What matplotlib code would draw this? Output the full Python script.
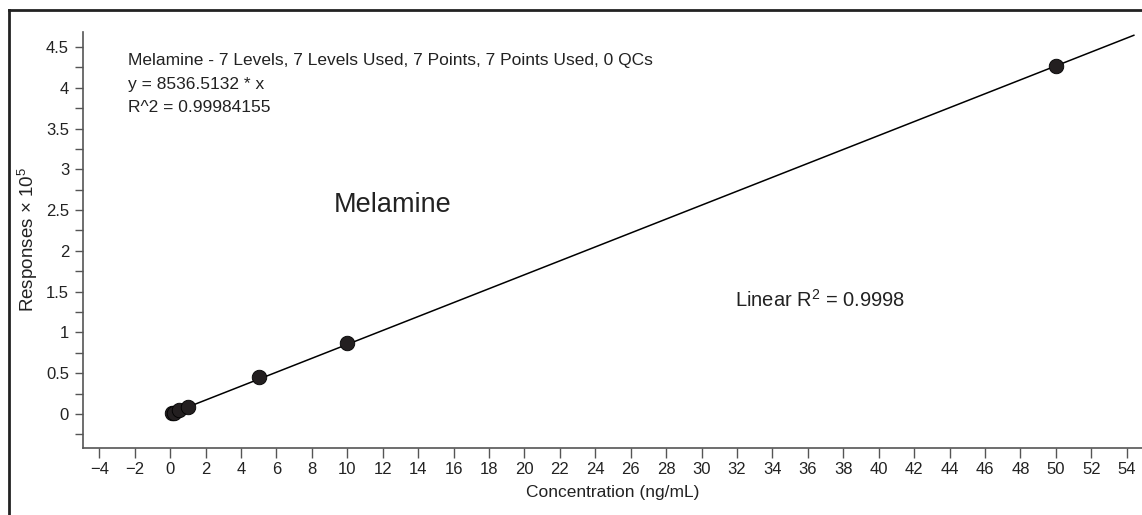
import matplotlib
matplotlib.use("Agg")
import matplotlib.pyplot as plt
from matplotlib.ticker import MultipleLocator
from matplotlib import font_manager

# Calibration data for melamine
conc = [0.1, 0.2, 0.5, 1.0, 5.0, 10.0, 50.0]          # ng/mL
response = [0.009, 0.018, 0.045, 0.087, 0.450, 0.874, 4.268]  # x 1e5
slope = 8536.5132 / 1e5
fit_x = [0.0, 54.4]
y_ticks = [0, 0.5, 1, 1.5, 2, 2.5, 3, 3.5, 4, 4.5]
y_labels = ["0", "0.5", "1", "1.5", "2", "2.5", "3", "3.5", "4", "4.5"]
x_ticks = list(range(-4, 55, 2))

names = {f.name for f in font_manager.fontManager.ttflist}
family = [f for f in ["Liberation Sans Narrow", "DejaVu Sans Condensed", "Liberation Sans"] if f in names]
family.append("DejaVu Sans")
plt.rcParams["font.family"] = family
plt.rcParams["mathtext.fontset"] = "custom"
plt.rcParams["mathtext.rm"] = family[0]
plt.rcParams["mathtext.default"] = "regular"

txt = "#222222"
fig = plt.figure(figsize=(11.42, 5.15), dpi=100)
ax = fig.add_axes([83 / 1142, 1 - 448 / 515, 1 - 83 / 1142, (448 - 32) / 515])

ax.plot(fit_x, [slope * v for v in fit_x], color="black", lw=1.1, zorder=2)
ax.scatter(conc, response, s=110, color="#231f20", edgecolor="black", lw=0.6, zorder=3)

ax.set_xlim(-4.92, 54.86)
ax.set_ylim(-0.417, 4.684)
ax.yaxis.set_minor_locator(MultipleLocator(0.25))
ax.set_yticks(y_ticks)
ax.set_yticklabels(y_labels)
ax.set_xticks(x_ticks)
ax.set_xticklabels([("\u2212" + str(-v)) if v < 0 else str(v) for v in x_ticks])

spine_col = "#555555"
for s in ["top", "right"]:
    ax.spines[s].set_visible(False)
for s in ["left", "bottom"]:
    ax.spines[s].set_color(spine_col)
    ax.spines[s].set_linewidth(1.2)
ax.tick_params(which="both", direction="out", length=6, width=1.0, color=spine_col,
               labelsize=12, labelcolor=txt, pad=4)
ax.tick_params(axis="x", length=7, pad=3)

ax.set_xlabel("Concentration (ng/mL)", fontsize=12.5, color=txt, labelpad=6)
ax.set_ylabel("Responses \u00d7 10$^{5}$", fontsize=13.5, color=txt, labelpad=4)

info = ["Melamine - 7 Levels, 7 Levels Used, 7 Points, 7 Points Used, 0 QCs",
        "y = 8536.5132 * x",
        "R^2 = 0.99984155"]
for i, line in enumerate(info):
    fig.text(128 / 1142, 1 - (60 + 24 * i) / 515, line, fontsize=12.5, color=txt,
             va="center", ha="left")

fig.text(334 / 1142, 1 - 205 / 515, "Melamine", fontsize=19.5, color=txt, va="center")
fig.text(735 / 1142, 1 - 300 / 515, "Linear R$^{2}$ = 0.9998", fontsize=14.5,
         color=txt, va="center")

# Figure frame on the top and left edges
fig.add_artist(plt.Line2D([9 / 1142, 9 / 1142], [0, 1 - 10 / 515], transform=fig.transFigure,
                          color="#222222", lw=2))
fig.add_artist(plt.Line2D([9 / 1142, 1], [1 - 10 / 515, 1 - 10 / 515], transform=fig.transFigure,
                          color="#222222", lw=2))

fig.savefig("out.png", dpi=100)
